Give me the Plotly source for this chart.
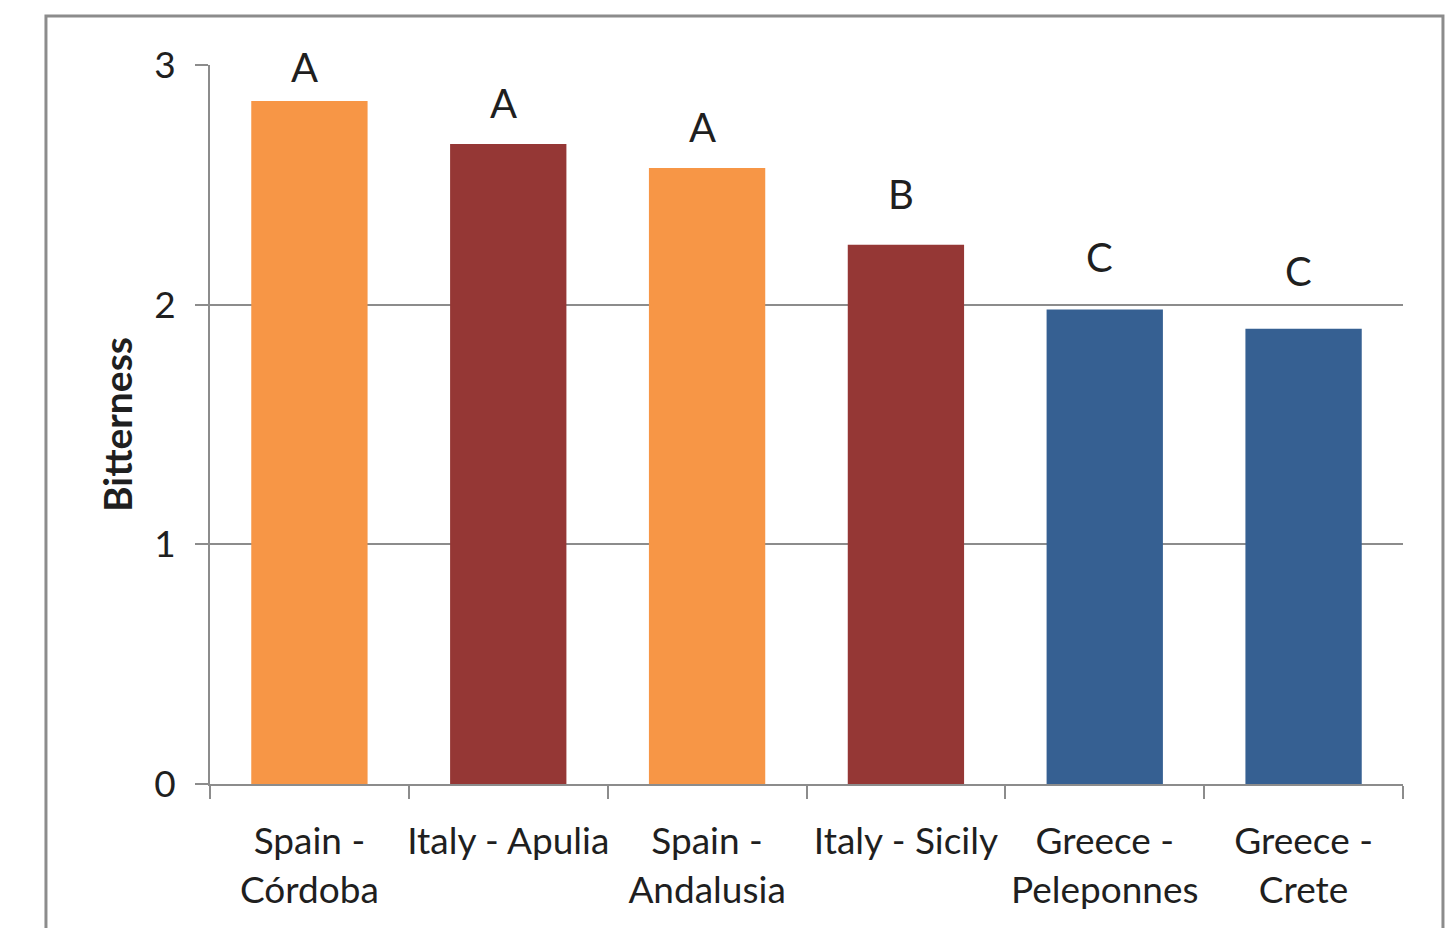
import plotly.graph_objects as go

# Bitterness scores by region of origin, with significance groups
regions = [
    "Spain -<br>Córdoba",
    "Italy - Apulia",
    "Spain -<br>Andalusia",
    "Italy - Sicily",
    "Greece -<br>Peleponnes",
    "Greece -<br>Crete",
]
bitterness = [2.85, 2.67, 2.57, 2.25, 1.98, 1.90]
bar_colors = ["#F79646", "#953735", "#F79646", "#953735", "#366092", "#366092"]
group_letters = ["A", "A", "A", "B", "C", "C"]
letter_heights = [2.99, 2.84, 2.74, 2.46, 2.20, 2.14]
y_ticks = [0, 1, 2, 3]

FONT = "Lato"
TEXT = "#1f1f1f"
GRID = "#8c8c8c"

fig = go.Figure(
    go.Bar(
        x=regions,
        y=bitterness,
        marker=dict(color=bar_colors, line=dict(width=0)),
        hoverinfo="skip",
    )
)

for reg, h, letter in zip(regions, letter_heights, group_letters):
    fig.add_annotation(
        x=reg, y=h, text=letter, showarrow=False,
        xanchor="center", yanchor="middle", xshift=-5,
        font=dict(family=FONT, size=40, color=TEXT),
    )

# outer chart frame
fig.add_shape(
    type="rect", xref="paper", yref="paper",
    x0=-0.1375, x1=1.0335, y0=-0.25, y1=1.068,
    line=dict(color=GRID, width=3), fillcolor="rgba(0,0,0,0)", layer="below",
)

fig.update_layout(
    width=1454, height=928,
    margin=dict(l=210, r=51, t=65, b=144),
    paper_bgcolor="white", plot_bgcolor="white",
    bargap=0.415, showlegend=False,
    font=dict(family=FONT, size=36, color=TEXT),
    xaxis=dict(
        type="category", automargin=False, tickangle=0,
        showline=True, linecolor=GRID, linewidth=2,
        ticks="outside", tickson="boundaries", ticklen=13, tickcolor=GRID, tickwidth=2,
        showgrid=False, ticklabelstandoff=24,
        tickfont=dict(family=FONT, size=37, color=TEXT),
    ),
    yaxis=dict(
        range=[0, 3], tickvals=y_ticks, automargin=False,
        showline=True, linecolor=GRID, linewidth=2,
        ticks="outside", ticklen=13, tickcolor=GRID, tickwidth=2,
        showgrid=True, gridcolor=GRID, gridwidth=2,
        zeroline=False, ticklabelstandoff=12,
        tickfont=dict(family=FONT, size=37, color=TEXT),
        title=dict(text="<b>Bitterness</b>", standoff=9,
                   font=dict(family=FONT, size=39, color=TEXT)),
    ),
)

fig.write_html("out.html")
